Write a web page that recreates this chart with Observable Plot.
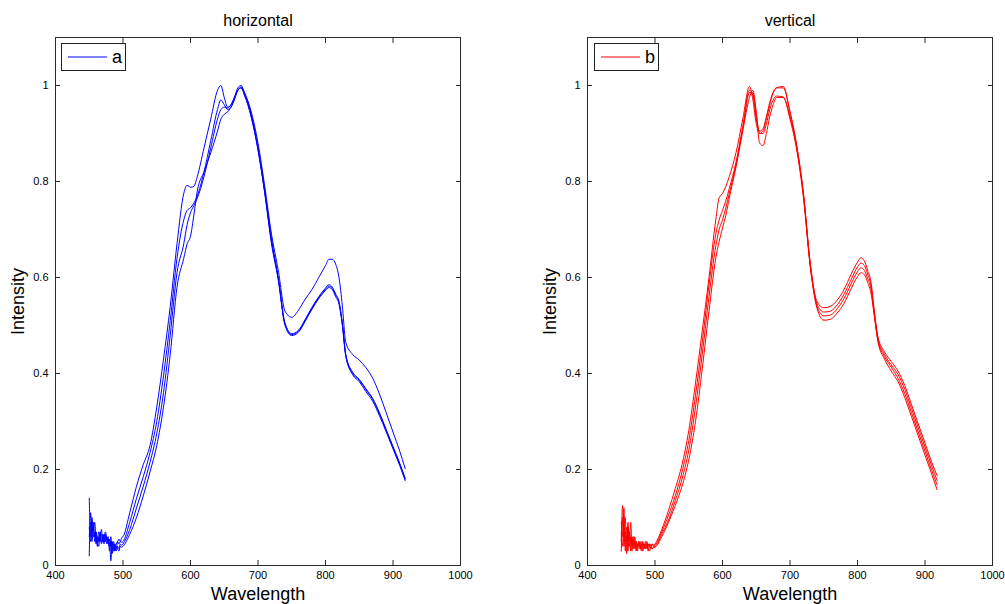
<!DOCTYPE html>
<html><head><meta charset="utf-8">
<script src="https://cdn.jsdelivr.net/npm/d3@7"></script>
<script src="https://cdn.jsdelivr.net/npm/@observablehq/plot@0.6"></script>
<style>
html,body{margin:0;padding:0;background:#fff;}
#wrap{position:relative;width:1005px;height:604px;overflow:hidden;font-family:"Liberation Sans",Arial,sans-serif;}
.panel{position:absolute;top:0;}
.legend{position:absolute;top:43px;width:63px;height:26px;border:1px solid #222;background:#fff;}
.legend svg{position:absolute;left:6px;top:11px;}
.legend .lb{position:absolute;left:50px;top:3px;font-size:18px;line-height:20px;color:#000;}
</style>
</head><body>
<div id="wrap"></div>
<script>
const wavelength = [450,452,454,456,458,460,462,464,466,468,470,472,474,476,478,480,482,484,486,488,490,492,494,496,498,
  500,510,520,530,540,550,560,570,580,590,595,600,605,610,620,630,640,645,650,655,660,665,670,675,680,
  690,700,710,720,730,740,750,760,770,780,790,800,805,810,815,820,825,830,840,850,860,870,880,890,900,910,918];

const horizontalA = [0.14,0.06,0.10,0.07,0.09,0.06,0.05,0.07,0.06,0.075,0.05,0.06,0.07,0.055,0.05,0.04,0.06,0.035,0.05,0.04,0.045,0.05,0.055,0.05,0.058,
  0.06,0.11,0.165,0.21,0.25,0.33,0.43,0.54,0.67,0.775,0.792,0.788,0.79,0.81,
  0.87,0.93,0.99,1.0,0.975,0.955,0.96,0.975,0.995,1.0,0.985,
  0.94,0.87,0.78,0.68,0.6,0.505,0.483,0.49,0.513,0.538,0.56,0.578,
  0.585,0.58,0.566,0.55,0.505,0.44,0.403,0.388,0.368,0.348,0.318,0.283,0.248,0.213,0.182];
const horizontalB = [0.02,0.11,0.07,0.09,0.05,0.07,0.04,0.06,0.05,0.065,0.06,0.045,0.065,0.05,0.06,0.03,0.05,0.04,0.03,0.045,0.035,0.05,0.045,0.05,0.048,
  0.05,0.09,0.14,0.185,0.235,0.3,0.395,0.51,0.64,0.72,0.74,0.745,0.755,0.77,
  0.82,0.885,0.95,0.97,0.96,0.95,0.955,0.97,0.99,0.995,0.98,
  0.935,0.868,0.778,0.675,0.598,0.503,0.481,0.488,0.511,0.536,0.558,0.575,
  0.582,0.577,0.563,0.547,0.502,0.438,0.4,0.386,0.366,0.346,0.316,0.281,0.246,0.211,0.18];
const horizontalC = [0.08,0.05,0.09,0.06,0.07,0.045,0.06,0.05,0.07,0.045,0.055,0.065,0.05,0.06,0.045,0.055,0.01,0.05,0.03,0.04,0.03,0.04,0.035,0.045,0.042,
  0.045,0.075,0.12,0.165,0.215,0.275,0.36,0.48,0.61,0.67,0.71,0.735,0.75,0.765,
  0.81,0.87,0.93,0.95,0.955,0.953,0.96,0.975,0.99,0.995,0.98,
  0.934,0.865,0.775,0.67,0.595,0.5,0.479,0.486,0.509,0.534,0.556,0.573,
  0.579,0.575,0.56,0.545,0.5,0.436,0.398,0.383,0.362,0.342,0.312,0.278,0.243,0.208,0.177];
const horizontalD = [0.06,0.09,0.05,0.08,0.06,0.07,0.05,0.04,0.06,0.05,0.065,0.05,0.06,0.045,0.055,0.04,0.05,0.025,0.045,0.03,0.04,0.035,0.03,0.04,0.038,
  0.04,0.065,0.1,0.145,0.195,0.25,0.33,0.44,0.58,0.64,0.67,0.686,0.73,0.78,
  0.82,0.86,0.905,0.93,0.94,0.945,0.955,0.972,0.99,0.997,0.985,
  0.945,0.88,0.79,0.69,0.615,0.53,0.517,0.532,0.555,0.575,0.6,0.625,
  0.638,0.638,0.628,0.6,0.54,0.465,0.44,0.428,0.412,0.39,0.357,0.318,0.278,0.238,0.202];

const verticalA = [0.05,0.125,0.06,0.1,0.04,0.08,0.05,0.09,0.04,0.06,0.035,0.05,0.04,0.05,0.035,0.05,0.04,0.045,0.035,0.05,0.04,0.045,0.04,0.045,0.042,
  0.045,0.075,0.115,0.16,0.21,0.281,0.38,0.489,0.6,0.72,0.766,0.775,0.79,0.81,
  0.86,0.93,0.998,0.97,0.92,0.9,0.905,0.93,0.96,0.985,0.995,
  0.995,0.945,0.875,0.775,0.63,0.55,0.537,0.54,0.553,0.575,0.605,0.632,
  0.641,0.635,0.615,0.59,0.53,0.478,0.445,0.425,0.405,0.375,0.335,0.295,0.255,0.215,0.187];
const verticalB = [0.09,0.06,0.12,0.03,0.08,0.05,0.07,0.03,0.06,0.04,0.05,0.03,0.045,0.04,0.05,0.035,0.045,0.04,0.05,0.035,0.045,0.04,0.035,0.045,0.04,
  0.042,0.07,0.105,0.145,0.195,0.26,0.355,0.465,0.585,0.69,0.72,0.74,0.76,0.785,
  0.84,0.915,0.99,0.98,0.93,0.905,0.91,0.935,0.965,0.985,0.995,
  0.998,0.945,0.872,0.772,0.628,0.545,0.528,0.53,0.543,0.565,0.594,0.622,
  0.63,0.625,0.607,0.583,0.525,0.474,0.44,0.418,0.398,0.367,0.327,0.287,0.247,0.207,0.177];
const verticalC = [0.03,0.1,0.04,0.07,0.025,0.09,0.04,0.06,0.05,0.035,0.06,0.04,0.035,0.05,0.04,0.03,0.05,0.035,0.045,0.04,0.03,0.045,0.04,0.035,0.04,
  0.04,0.065,0.095,0.135,0.18,0.24,0.33,0.44,0.56,0.665,0.7,0.72,0.745,0.775,
  0.835,0.91,0.985,0.985,0.94,0.9,0.9,0.92,0.95,0.97,0.978,
  0.976,0.935,0.87,0.77,0.625,0.54,0.52,0.522,0.535,0.556,0.585,0.612,
  0.62,0.615,0.598,0.576,0.522,0.472,0.435,0.413,0.39,0.358,0.318,0.278,0.238,0.198,0.168];
const verticalD = [0.07,0.04,0.09,0.05,0.06,0.03,0.07,0.045,0.03,0.055,0.04,0.05,0.03,0.045,0.035,0.045,0.03,0.04,0.035,0.045,0.035,0.03,0.04,0.035,0.037,
  0.038,0.06,0.09,0.125,0.165,0.22,0.3,0.41,0.53,0.64,0.675,0.703,0.73,0.765,
  0.83,0.905,0.975,0.99,0.945,0.88,0.875,0.9,0.935,0.96,0.975,
  0.975,0.93,0.865,0.765,0.622,0.536,0.511,0.513,0.526,0.546,0.575,0.602,
  0.61,0.606,0.59,0.567,0.518,0.468,0.43,0.405,0.383,0.35,0.31,0.27,0.23,0.19,0.158];

const xTicks = [400,500,600,700,800,900,1000];
const yTicks = [0,0.2,0.4,0.6,0.8,1];
const panelTitles = ["horizontal","vertical"];
const legendLabels = ["a","b"];
const xLabel = "Wavelength";
const yLabel = "Intensity";

function tidy(series) {
  const out = [];
  series.forEach((vals, k) => vals.forEach((v, i) => {
    if (v != null && wavelength[i] != null) out.push({w: wavelength[i], v, s: k});
  }));
  return out;
}

function panel(series, color, title, width, marginRight) {
  const data = tidy(series);
  const axisColor = "#2a2a2a";
  return Plot.plot({
    width, height: 604,
    marginLeft: 55, marginRight, marginTop: 37, marginBottom: 39,
    style: {fontFamily: "'Liberation Sans', Arial, sans-serif", fontSize: "11px", color: "#000", background: "transparent", overflow: "visible"},
    x: {domain: [400, 1000]},
    y: {domain: [0, 1.1]},
    marks: [
      Plot.line(data, {x: "w", y: "v", z: "s", stroke: color, strokeWidth: 1, curve: "monotone-x"}),
      Plot.frame({stroke: axisColor}),
      Plot.axisX(xTicks, {anchor: "bottom", tickSize: 0, tickPadding: 6, tickFormat: d => String(d), label: null}),
      Plot.axisX(xTicks, {anchor: "bottom", tickSize: -5, fill: "none", stroke: axisColor}),
      Plot.axisX(xTicks, {anchor: "top", tickSize: -5, fill: "none", stroke: axisColor}),
      Plot.axisY(yTicks, {anchor: "left", tickSize: 0, tickPadding: 7, tickFormat: d => String(d), label: null}),
      Plot.axisY(yTicks, {anchor: "left", tickSize: -5, fill: "none", stroke: axisColor}),
      Plot.axisY(yTicks, {anchor: "right", tickSize: -5, fill: "none", stroke: axisColor}),
      Plot.text([title], {frameAnchor: "top", textAnchor: "middle", lineAnchor: "middle", dy: -17, fontSize: 16}),
      Plot.text([xLabel], {frameAnchor: "bottom", textAnchor: "middle", lineAnchor: "middle", dy: 29, fontSize: 18}),
      Plot.text([yLabel], {frameAnchor: "left", textAnchor: "middle", lineAnchor: "middle", dx: -37, rotate: -90, fontSize: 18})
    ]
  });
}

const wrap = document.getElementById("wrap");
const specs = [
  {series: [horizontalA, horizontalB, horizontalC, horizontalD], color: "#0000ff", left: 0, width: 500, mr: 40},
  {series: [verticalA, verticalB, verticalC, verticalD], color: "#ff0000", left: 532, width: 473, mr: 13}
];
specs.forEach((s, i) => {
  const div = document.createElement("div");
  div.className = "panel";
  div.style.left = s.left + "px";
  div.appendChild(panel(s.series, s.color, panelTitles[i], s.width, s.mr));
  wrap.appendChild(div);
  const lg = document.createElement("div");
  lg.className = "legend";
  lg.style.left = (s.left + 61 + (i ? 1 : 0)) + "px";
  const svgNS = "http://www.w3.org/2000/svg";
  const sv = document.createElementNS(svgNS, "svg");
  sv.setAttribute("width", "40"); sv.setAttribute("height", "4");
  const l = document.createElementNS(svgNS, "line");
  l.setAttribute("x1", "0"); l.setAttribute("x2", "39");
  l.setAttribute("y1", "2"); l.setAttribute("y2", "2");
  l.setAttribute("stroke", s.color); l.setAttribute("stroke-width", "1.2");
  sv.appendChild(l);
  const lb = document.createElement("div");
  lb.className = "lb";
  lb.textContent = legendLabels[i];
  lg.appendChild(sv); lg.appendChild(lb);
  wrap.appendChild(lg);
});
</script>
</body></html>
